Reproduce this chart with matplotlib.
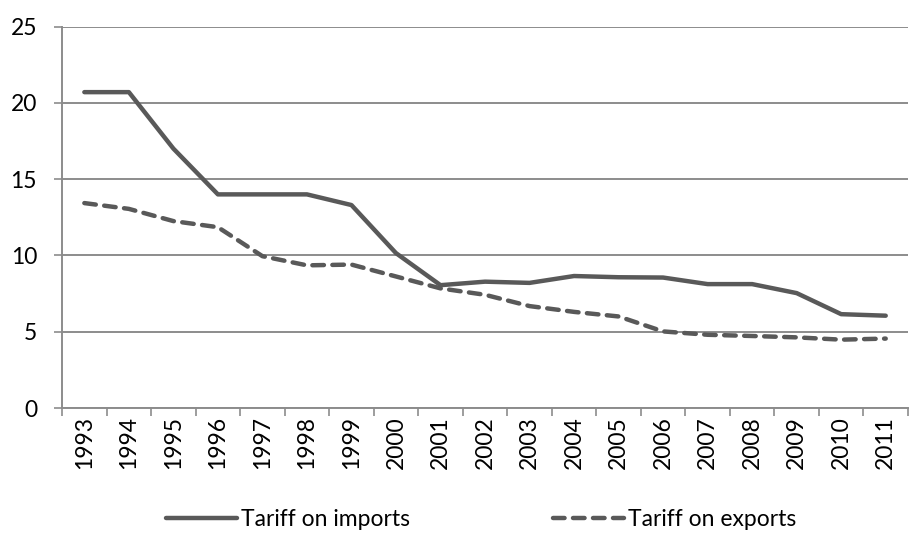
import matplotlib
matplotlib.use("Agg")
import matplotlib.pyplot as plt
from matplotlib.lines import Line2D
import numpy as np

plt.rcParams['font.family'] = ['Lato', 'DejaVu Sans']

years = [str(y) for y in range(1993, 2012)]
tariff_imports = [20.7, 20.7, 17.0, 14.0, 14.0, 14.0, 13.3, 10.15, 8.05, 8.28,
                  8.2, 8.65, 8.57, 8.55, 8.12, 8.12, 7.53, 6.15, 6.05]
tariff_exports = [13.43, 13.05, 12.25, 11.85, 9.95, 9.35, 9.4, 8.62, 7.84, 7.42,
                  6.68, 6.3, 6.0, 5.02, 4.8, 4.72, 4.63, 4.48, 4.55]
yticks = [0, 5, 10, 15, 20, 25]

line_col = '#595959'
grid_col = '#8c8c8c'
fs = 16.5

fig = plt.figure(figsize=(9.13, 5.38), dpi=100)
ax = fig.add_axes([0.068, 0.2416, 0.9265, 0.7091])

x = np.arange(len(years))
ax.plot(x, tariff_imports, color=line_col, lw=3.2, solid_capstyle='round',
        solid_joinstyle='round', label='Tariff on imports')
ax.plot(x, tariff_exports, color=line_col, lw=3.2, linestyle=(0, (2.6, 1.9)),
        dash_capstyle='round', dash_joinstyle='round', label='Tariff on exports')

ax.set_xlim(-0.5, len(years) - 0.5)
ax.set_ylim(0, 25)
ax.set_yticks(yticks)
ax.set_yticklabels([str(v) for v in yticks], fontsize=fs)
ax.yaxis.grid(True, color=grid_col, lw=1.4)
ax.set_axisbelow(True)

# category boundary ticks on x, labels centred in each category
ax.set_xticks(np.arange(len(years) + 1) - 0.5, minor=False)
ax.set_xticklabels([])
ax.set_xticks(x, minor=True)
ax.set_xticklabels(years, minor=True, rotation=90, fontsize=fs)
ax.tick_params(axis='x', which='major', length=6, width=1.2, color=grid_col, direction='out')
ax.tick_params(axis='x', which='minor', length=0, pad=6)
ax.tick_params(axis='y', length=6, width=1.2, color=grid_col, pad=12)

for s in ['top', 'right']:
    ax.spines[s].set_visible(False)
ax.spines['left'].set_color(grid_col)
ax.spines['left'].set_linewidth(1.4)
ax.spines['bottom'].set_color(grid_col)
ax.spines['bottom'].set_linewidth(1.4)

handles = [Line2D([], [], color=line_col, lw=3.2, solid_capstyle='round'),
           Line2D([], [], color=line_col, lw=3.2, linestyle=(0, (2.6, 1.9)), dash_capstyle='round')]
fig.legend(handles, ['Tariff on imports', 'Tariff on exports'], loc='center',
           bbox_to_anchor=(0.527, 0.035), ncol=2, frameon=False, fontsize=fs,
           handlelength=3.1, handletextpad=0.2, columnspacing=6.2)

fig.savefig('out.png', dpi=100)
